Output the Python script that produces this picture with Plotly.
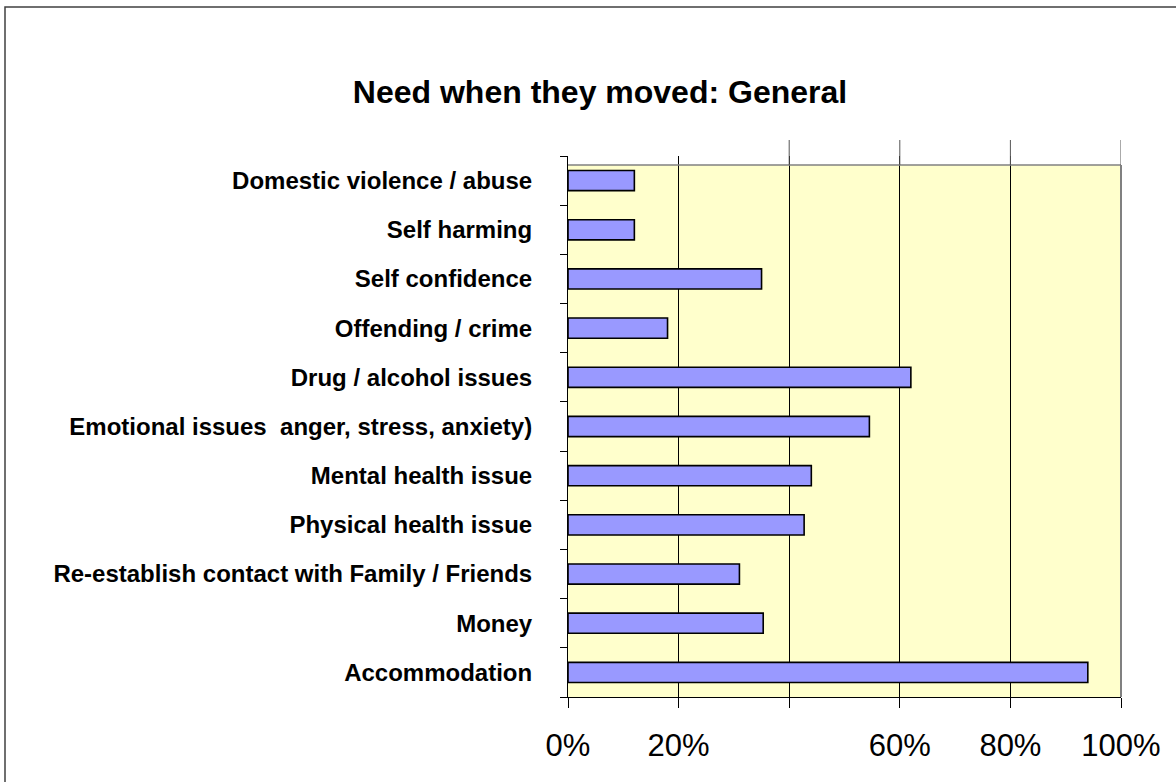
import plotly.graph_objects as go

categories = [
    "Domestic violence / abuse",
    "Self harming",
    "Self confidence",
    "Offending / crime",
    "Drug / alcohol issues",
    "Emotional issues  anger, stress, anxiety)",
    "Mental health issue",
    "Physical health issue",
    "Re-establish contact with Family / Friends",
    "Money",
    "Accommodation",
]
values = [12, 12, 35, 18, 62, 54.5, 44, 42.7, 31, 35.3, 94]
tick_values = [0, 20, 60, 80, 100]
tick_labels = ["0%", "20%", "60%", "80%", "100%"]
grid_values = [0, 20, 40, 60, 80, 100]

W, H = 1176, 782
L, R, T, B = 568, 55, 156, 85
plot_h = H - T - B
FONT = "Liberation Sans, Arial, sans-serif"

fig = go.Figure()
fig.add_trace(go.Bar(
    y=categories, x=values, orientation="h",
    marker=dict(color="#9999FF", line=dict(color="#000000", width=1.6)),
    width=0.41,
    hoverinfo="x+y",
))

frame_top = 1 - 9 / plot_h  # yellow area starts slightly below the axis top

shapes = [
    # yellow plot area
    dict(type="rect", xref="x domain", yref="y domain", x0=0, x1=1, y0=0, y1=frame_top,
         fillcolor="#FFFFCC", line=dict(width=0), layer="below"),
    # top grey border
    dict(type="line", xref="x domain", yref="y domain", x0=0, x1=1, y0=frame_top, y1=frame_top,
         line=dict(color="#808080", width=1.5), layer="above"),
    # right grey border
    dict(type="line", xref="x domain", yref="y domain", x0=1, x1=1, y0=0, y1=frame_top,
         line=dict(color="#808080", width=2), layer="above"),
    # outer chart frame
    dict(type="rect", xref="paper", yref="paper",
         x0=(5 - L) / (W - L - R), x1=3, y0=-2, y1=(H - B - 7) / plot_h,
         line=dict(color="#404040", width=1.5), fillcolor="rgba(0,0,0,0)"),
]
# gridline stubs above the plot area
for gv in grid_values[2:]:
    shapes.append(dict(type="line", xref="x", yref="y domain", x0=gv, x1=gv,
                       y0=frame_top, y1=1 + 16 / plot_h,
                       line=dict(color="#555555", width=1), layer="above"))

fig.update_layout(
    width=W, height=H,
    margin=dict(l=L, r=R, t=T, b=B, pad=0),
    paper_bgcolor="white",
    plot_bgcolor="rgba(0,0,0,0)",
    showlegend=False,
    bargap=0.59,
    font=dict(family=FONT, color="#000000"),
    title=dict(text="<b>Need when they moved: General</b>",
               font=dict(family=FONT, size=32, color="#000000"),
               xref="container", yref="container",
               x=600 / W, xanchor="center", y=1 - 92 / H, yanchor="middle"),
    shapes=shapes,
)

fig.update_xaxes(
    range=[0, 100],
    tickvals=tick_values, ticktext=tick_labels,
    ticks="outside", ticklen=10, tickcolor="#000000", tickwidth=1,
    tickfont=dict(family=FONT, size=31, color="#000000"),
    showgrid=False, zeroline=False,
    showline=True, linecolor="#000000", linewidth=1,
    ticklabelstandoff=11,
    minor=dict(tickvals=grid_values, ticks="outside", ticklen=10, tickcolor="#000000",
               showgrid=True, gridcolor="#000000", gridwidth=1),
    fixedrange=True,
)
fig.update_yaxes(
    categoryorder="array", categoryarray=categories,
    autorange="reversed",
    tickson="boundaries",
    ticks="outside", ticklen=7, tickcolor="#000000", tickwidth=1,
    tickfont=dict(family=FONT, size=24, color="#000000"),
    showgrid=False, zeroline=False,
    showline=True, linecolor="#000000", linewidth=1,
    ticklabelstandoff=30,
    fixedrange=True,
)
# bold tick labels
fig.update_yaxes(tickvals=categories, ticktext=[f"<b>{c}</b>" for c in categories])

fig.write_html(
    "out.html",
    config={"displayModeBar": False},
    post_script="document.body.style.margin='0px';document.body.style.overflow='hidden';",
)
